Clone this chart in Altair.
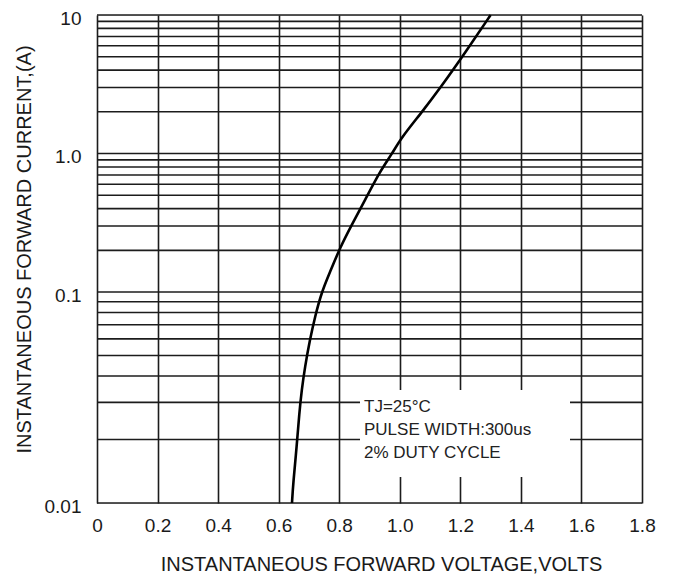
import altair as alt
import pandas as pd
import math

# Forward characteristic
VOLTAGE = [0.644, 0.648, 0.660, 0.668, 0.676, 0.687, 0.703, 0.720, 0.742, 0.770, 0.803,
           0.841, 0.885, 0.934, 0.975, 1.005, 1.070, 1.135, 1.215, 1.300]
CURRENT = [0.010, 0.0124, 0.0188, 0.0266, 0.0343, 0.0443, 0.0592, 0.0764, 0.100, 0.140, 0.210,
           0.305, 0.46, 0.74, 1.00, 1.30, 1.95, 3.00, 5.30, 10.0]

# Horizontal grid (log minor lines) and axis ticks
GRID_CURRENTS = [0.01, 0.02, 0.03, 0.04, 0.05, 0.06, 0.07, 0.08, 0.09,
                 0.1, 0.2, 0.3, 0.4, 0.5, 0.6, 0.7, 0.8, 0.9,
                 1, 2, 3, 4, 5, 6, 7, 8, 9, 10]
X_TICKS = [0, 0.2, 0.4, 0.6, 0.8, 1.0, 1.2, 1.4, 1.6, 1.8]
X_TICK_LABELS = ["0", "0.2", "0.4", "0.6", "0.8", "1.0", "1.2", "1.4", "1.6", "1.8"]
Y_TICKS = [10, 1.0, 0.1, 0.01]
Y_TICK_LABELS = ["10", "1.0", "0.1", "0.01"]
NOTE_LINES = ["TJ=25°C", "PULSE WIDTH:300us", "2% DUTY CYCLE"]

# The reference's lowest decade is drawn taller than the others
K = 1.523


def tpos(i):
    l = math.log10(i)
    return l if i >= 0.1 - 1e-12 else -1 - (-1 - l) * K


T_EXPR = f"datum.I >= 0.0999999 ? log(datum.I)/LN10 : -1 - (-1 - log(datum.I)/LN10) * {K}"

FONT = "Liberation Sans"
INK = "#1a1a1a"
LINE = "#1c1c1c"

x_label_expr = " : ".join(
    f"abs(datum.value - {v}) < 0.001 ? '{s}'" for v, s in zip(X_TICKS, X_TICK_LABELS)
) + " : ''"
y_vals = [tpos(v) for v in Y_TICKS]
y_label_expr = " : ".join(
    f"abs(datum.value - ({tv})) < 0.01 ? '{s}'" for tv, s in zip(y_vals, Y_TICK_LABELS)
) + " : ''"

x_scale = alt.Scale(domain=[0, 1.8], nice=False, zero=False)
y_scale = alt.Scale(domain=[tpos(0.01), 1.0], nice=False, zero=False)

x_axis = alt.Axis(
    values=X_TICKS, labelExpr=x_label_expr, grid=True, gridColor=LINE, gridWidth=1.6,
    ticks=False, domain=False, labelFlush=False, labelOverlap=False,
    labelFont=FONT, labelFontSize=19, labelColor=INK, labelPadding=13,
    title="INSTANTANEOUS FORWARD VOLTAGE,VOLTS", titleFont=FONT, titleFontSize=20,
    titleFontWeight="normal", titleColor=INK, titleX=284, titleY=61,
    titleAlign="center", titleBaseline="middle",
)
y_axis = alt.Axis(
    values=y_vals, labelExpr=y_label_expr, grid=False, ticks=False, domain=False,
    labelFlush=False, labelOverlap=False, labelFont=FONT, labelFontSize=19,
    labelColor=INK, labelPadding=16, labelOffset=3,
    title="INSTANTANEOUS FORWARD CURRENT,(A)", titleFont=FONT, titleFontSize=20,
    titleFontWeight="normal", titleColor=INK, titleX=-73, titleY=234,
    titleAlign="center", titleBaseline="middle", titleAngle=270,
)

grid_df = pd.DataFrame({"I": GRID_CURRENTS})
curve_df = pd.DataFrame({"V": VOLTAGE, "I": CURRENT})
one = pd.DataFrame({"a": [0]})

hgrid = alt.Chart(grid_df).transform_calculate(t=T_EXPR).mark_rule(
    color=LINE, strokeWidth=1.6
).encode(y=alt.Y("t:Q", scale=y_scale, axis=y_axis))

curve = alt.Chart(curve_df).transform_calculate(t=T_EXPR).mark_line(
    color="#000000", strokeWidth=2.6, interpolate="basis"
).encode(
    x=alt.X("V:Q", scale=x_scale, axis=x_axis),
    y=alt.Y("t:Q", scale=y_scale, axis=y_axis),
)

box = alt.Chart(one).mark_rect(color="white").encode(
    x=alt.value(263), x2=alt.value(473), y=alt.value(375), y2=alt.value(462)
)

note = alt.Chart(one).mark_text(
    text="\n".join(NOTE_LINES), lineBreak="\n", lineHeight=23, align="left",
    baseline="middle", font=FONT, fontSize=17, color="#222222",
).encode(x=alt.value(267), y=alt.value(392))

chart = alt.layer(hgrid, curve, box, note).properties(
    width=545, height=488,
    autosize=alt.AutoSizeParams(type="none"),
    padding={"left": 89, "top": 7, "right": 20, "bottom": 72},
).configure_view(stroke="#111111", strokeWidth=2).configure(background="white")

chart.save("out.html", embed_options={"renderer": "svg", "actions": False})
